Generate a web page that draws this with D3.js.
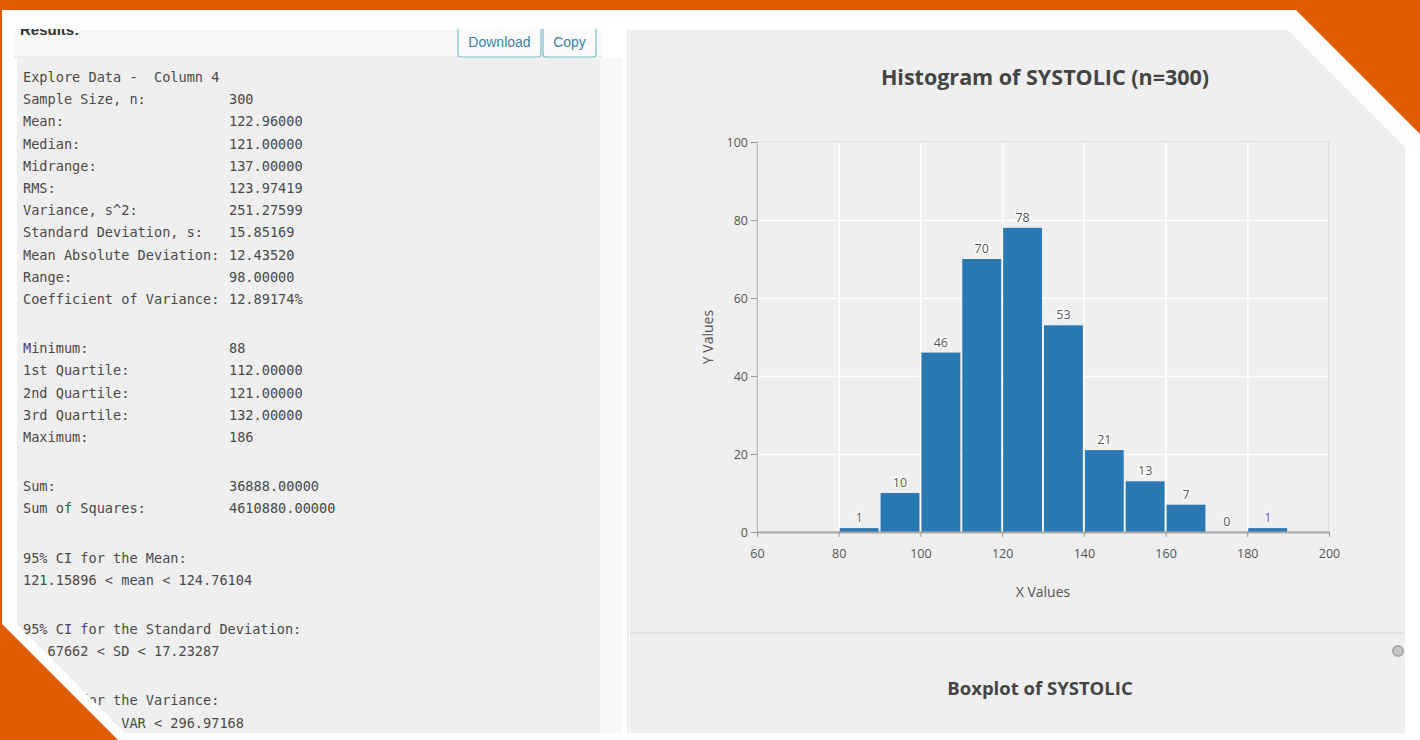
<!DOCTYPE html>
<html>
<head>
<meta charset="utf-8">
<script src="https://cdn.jsdelivr.net/npm/d3@7"></script>
<style>
  html, body { margin: 0; padding: 0; background: #fff; }
  svg { display: block; }
</style>
</head>
<body>
<svg width="1420" height="740"></svg>
<script>
// histogram bins (width 10)
const binStarts = [80, 90, 100, 110, 120, 130, 140, 150, 160, 170, 180];
const binCounts = [1, 10, 46, 70, 78, 53, 21, 13, 7, 0, 1];
const binWidth = 10;
const xTicks = [60, 80, 100, 120, 140, 160, 180, 200];
const yTicks = [0, 20, 40, 60, 80, 100];

// summary text on the left ("" = blank row)
const statLabels = [
  "Explore Data -  Column 4", "Sample Size, n:", "Mean:", "Median:", "Midrange:", "RMS:",
  "Variance, s^2:", "Standard Deviation, s:", "Mean Absolute Deviation:", "Range:",
  "Coefficient of Variance:", "",
  "Minimum:", "1st Quartile:", "2nd Quartile:", "3rd Quartile:", "Maximum:", "",
  "Sum:", "Sum of Squares:", "",
  "95% CI for the Mean:", "121.15896 < mean < 124.76104", "",
  "95% CI for the Standard Deviation:", "14.67662 < SD < 17.23287", "",
  "95% CI for the Variance:", "215.40318 < VAR < 296.97168"
];
const statValues = [
  "", "300", "122.96000", "121.00000", "137.00000", "123.97419",
  "251.27599", "15.85169", "12.43520", "98.00000",
  "12.89174%", "",
  "88", "112.00000", "121.00000", "132.00000", "186", "",
  "36888.00000", "4610880.00000", "",
  "", "", "",
  "", "", "",
  "", ""
];

const svg = d3.select("svg");
const W = 1420, H = 740;

svg.append("rect").attr("width", W).attr("height", H).attr("fill", "#fff");

// ---------- left results panel ----------
const left = svg.append("g");
left.append("rect").attr("x", 14).attr("y", 20).attr("width", 588).attr("height", 37)
    .attr("fill", "#f8f8f8");
left.append("line").attr("x1", 14).attr("x2", 602).attr("y1", 57).attr("y2", 57)
    .attr("stroke", "#dedede");
left.append("text").attr("x", 20).attr("y", 35)
    .attr("font-family", "Helvetica, Arial, sans-serif").attr("font-size", 15)
    .attr("font-weight", "bold").attr("fill", "#333").text("Results:");

const buttons = [{label: "Download", x: 458, w: 83}, {label: "Copy", x: 543, w: 53}];
buttons.forEach(b => {
  left.append("rect").attr("x", b.x).attr("y", 14).attr("width", b.w).attr("height", 43)
      .attr("rx", 3).attr("fill", "#fbfbfb").attr("stroke", "#7fbfca").attr("stroke-width", 1.2);
  left.append("text").attr("x", b.x + b.w / 2).attr("y", 47)
      .attr("text-anchor", "middle").attr("font-family", "Helvetica, Arial, sans-serif")
      .attr("font-size", 14).attr("fill", "#3a82a8").text(b.label);
});

left.append("rect").attr("x", 17).attr("y", 58).attr("width", 583).attr("height", 676)
    .attr("fill", "#efefef");
left.append("rect").attr("x", 600).attr("y", 58).attr("width", 22).attr("height", 676)
    .attr("fill", "#f8f8f8");

let rowY = 82;
const rows = left.append("g")
    .attr("font-family", "'DejaVu Sans Mono', monospace")
    .attr("font-size", 13.6).attr("fill", "#4a4a4a");
statLabels.forEach((lab, i) => {
  if (lab === "" && statValues[i] === "") { rowY += 27; return; }
  rows.append("text").attr("x", 23).attr("y", rowY).attr("xml:space", "preserve").text(lab);
  if (statValues[i]) rows.append("text").attr("x", 229).attr("y", rowY).text(statValues[i]);
  rowY += 22.2;
});

// ---------- right chart panel ----------
svg.append("line").attr("x1", 628).attr("x2", 628).attr("y1", 28).attr("y2", 734)
    .attr("stroke", "#dcdcdc");
svg.append("rect").attr("x", 630).attr("y", 30).attr("width", 775).attr("height", 602)
    .attr("fill", "#efefef");
svg.append("line").attr("x1", 630).attr("x2", 1405).attr("y1", 633).attr("y2", 633)
    .attr("stroke", "#dadada").attr("stroke-width", 1.5);
svg.append("rect").attr("x", 630).attr("y", 634).attr("width", 775).attr("height", 99)
    .attr("fill", "#efefef");

const titleFont = "'Open Sans', 'DejaVu Sans', sans-serif";
svg.append("text").attr("x", 1045).attr("y", 85).attr("text-anchor", "middle")
    .attr("font-family", titleFont).attr("font-size", 21.5).attr("font-weight", "bold")
    .attr("fill", "#444").text("Histogram of SYSTOLIC (n=300)");
svg.append("text").attr("x", 1040).attr("y", 695).attr("text-anchor", "middle")
    .attr("font-family", titleFont).attr("font-size", 18.5).attr("font-weight", "bold")
    .attr("fill", "#444").text("Boxplot of SYSTOLIC");
svg.append("circle").attr("cx", 1398).attr("cy", 651).attr("r", 5)
    .attr("fill", "#c8c8c8").attr("stroke", "#aaa").attr("stroke-width", 2);

const plot = {left: 757, right: 1329, top: 142, bottom: 532};
const x = d3.scaleLinear().domain([60, 200]).range([plot.left, plot.right]);
const y = d3.scaleLinear().domain([0, 100]).range([plot.bottom, plot.top]);

const chart = svg.append("g");

// grid
chart.append("g").attr("transform", `translate(0,${plot.bottom})`)
    .call(d3.axisBottom(x).tickValues(xTicks).tickSize(-(plot.bottom - plot.top)).tickFormat(""))
    .call(g => g.select(".domain").remove())
    .call(g => g.selectAll("line").attr("stroke", "#fff").attr("stroke-width", 1.6));
chart.append("g").attr("transform", `translate(${plot.left},0)`)
    .call(d3.axisLeft(y).tickValues(yTicks).tickSize(-(plot.right - plot.left)).tickFormat(""))
    .call(g => g.select(".domain").remove())
    .call(g => g.selectAll("line").attr("stroke", "#fff").attr("stroke-width", 1.6));

chart.append("rect").attr("x", plot.left).attr("y", plot.top)
    .attr("width", plot.right - plot.left).attr("height", plot.bottom - plot.top)
    .attr("fill", "none").attr("stroke", "#cfcfcf");

// bars
chart.selectAll(".bar").data(binStarts).enter().append("rect")
    .attr("class", "bar")
    .attr("x", d => x(d) + 1)
    .attr("y", (d, i) => y(binCounts[i]))
    .attr("width", d => x(d + binWidth) - x(d) - 2)
    .attr("height", (d, i) => y(0) - y(binCounts[i]))
    .attr("fill", "#2a79b5");

chart.selectAll(".bar-label").data(binStarts).enter().append("text")
    .attr("class", "bar-label")
    .attr("x", d => x(d + binWidth / 2))
    .attr("y", (d, i) => y(binCounts[i]) - 6)
    .attr("text-anchor", "middle")
    .attr("font-family", titleFont).attr("font-size", 12.5)
    .attr("fill", "#555").attr("stroke", "#fff").attr("stroke-width", 2.5)
    .attr("paint-order", "stroke")
    .text((d, i) => binCounts[i]);

// axes
const axisFont = g => g.selectAll("text").attr("font-family", titleFont)
    .attr("font-size", 12.5).attr("fill", "#555");
chart.append("g").attr("transform", `translate(0,${plot.bottom})`)
    .call(d3.axisBottom(x).tickValues(xTicks).tickSize(5).tickPadding(12).tickSizeOuter(0))
    .call(g => g.select(".domain").attr("stroke", "#a8a8a8").attr("stroke-width", 2))
    .call(g => g.selectAll(".tick line").attr("stroke", "#999"))
    .call(axisFont);
chart.append("g").attr("transform", `translate(${plot.left},0)`)
    .call(d3.axisLeft(y).tickValues(yTicks).tickSize(6).tickPadding(3).tickSizeOuter(0))
    .call(g => g.select(".domain").attr("stroke", "#bbb"))
    .call(g => g.selectAll(".tick line").attr("stroke", "#999"))
    .call(axisFont);

chart.append("text").attr("x", (plot.left + plot.right) / 2).attr("y", 597)
    .attr("text-anchor", "middle").attr("font-family", titleFont).attr("font-size", 14)
    .attr("fill", "#555").text("X Values");
chart.append("text")
    .attr("transform", `translate(713,${(plot.top + plot.bottom) / 2}) rotate(-90)`)
    .attr("text-anchor", "middle").attr("font-family", titleFont).attr("font-size", 14)
    .attr("fill", "#555").text("Y Values");

// ---------- orange frame ----------
const frame = svg.append("g");
frame.append("rect").attr("x", 0).attr("y", 10).attr("width", W).attr("height", 19).attr("fill", "#fff");
frame.append("rect").attr("x", 0).attr("y", 733).attr("width", W).attr("height", 7).attr("fill", "#fff");
frame.append("rect").attr("x", 1405).attr("y", 10).attr("width", 15).attr("height", H).attr("fill", "#fff");
frame.append("polygon").attr("points", "1268,10 1420,10 1420,162").attr("fill", "#fff");
frame.append("polygon").attr("points", "0,608 132,740 0,740").attr("fill", "#fff");

const orange = "#e05a00";
frame.append("rect").attr("x", 0).attr("y", 0).attr("width", W).attr("height", 10).attr("fill", orange);
frame.append("rect").attr("x", 0).attr("y", 0).attr("width", 2).attr("height", H).attr("fill", orange);
frame.append("polygon").attr("points", "1296,10 1420,10 1420,134").attr("fill", orange);
frame.append("polygon").attr("points", "0,622 118,740 0,740").attr("fill", orange);
</script>
</body>
</html>
